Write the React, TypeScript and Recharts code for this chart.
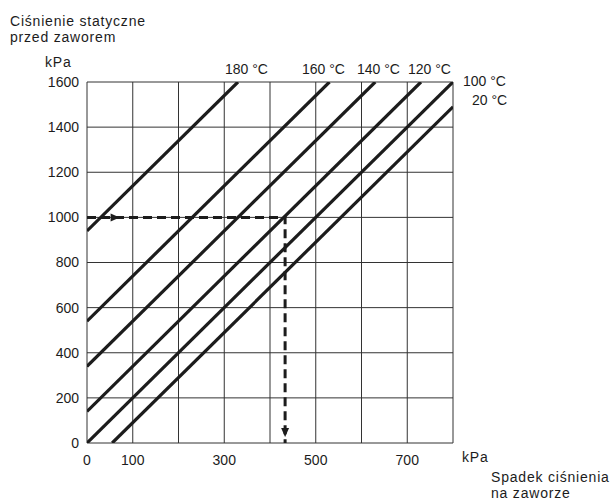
import { ComposedChart, Line, Scatter, XAxis, YAxis, CartesianGrid } from "recharts";

// Spadek ciśnienia (kPa) vs ciśnienie statyczne (kPa)
const xTicks = [0, 100, 200, 300, 400, 500, 600, 700, 800];
const xLabelled = [0, 100, 300, 500, 700];
const yTicks = [0, 200, 400, 600, 800, 1000, 1200, 1400, 1600];

const line180 = [{ dp: 0, p: 940 }, { dp: 330, p: 1600 }];
const line160 = [{ dp: 0, p: 540 }, { dp: 530, p: 1600 }];
const line140 = [{ dp: 0, p: 340 }, { dp: 630, p: 1600 }];
const line120 = [{ dp: 0, p: 140 }, { dp: 730, p: 1600 }];
const line100 = [{ dp: 0, p: 0 }, { dp: 800, p: 1600 }];
const line20 = [{ dp: 55, p: 0 }, { dp: 800, p: 1490 }];

const curves = [line180, line160, line140, line120, line100, line20];

// przykład odczytu (linia przerywana) i strzałki
const readingPath = [{ dp: 0, p: 1000 }, { dp: 433, p: 1000 }, { dp: 433, p: 0 }];
const arrows = [
  { dp: 67, p: 1000, dir: "right" },
  { dp: 433, p: 35, dir: "down" },
];

const tempLabels = [
  { text: "180 °C", left: 225, top: 62 },
  { text: "160 °C", left: 302, top: 62 },
  { text: "140 °C", left: 357, top: 62 },
  { text: "120 °C", left: 408, top: 62 },
  { text: "100 °C", left: 463, top: 74 },
  { text: "20 °C", left: 472, top: 93 },
];

const font = "'Liberation Sans', Arial, sans-serif";
const ink = "#1c1c1c";

function Arrow(props: any) {
  const { cx, cy, payload } = props;
  if (cx == null || cy == null) return null;
  const pts =
    payload.dir === "right"
      ? `${cx - 7},${cy - 4} ${cx + 2},${cy} ${cx - 7},${cy + 4}`
      : `${cx - 4},${cy - 7} ${cx},${cy + 2} ${cx + 4},${cy - 7}`;
  return <polygon points={pts} fill={ink} />;
}

function XTick(props: any) {
  const { x, y, payload } = props;
  if (!xLabelled.includes(payload.value)) return null;
  return (
    <text x={x} y={y} dy="0.71em" textAnchor="middle" fontSize={14} fill={ink} fontFamily={font}>
      {payload.value}
    </text>
  );
}

export default function App() {
  const txt = (s: string, left: number, top: number) => (
    <div
      style={{
        position: "absolute", left, top, fontSize: 14, letterSpacing: 0.8, color: ink,
        fontFamily: font, whiteSpace: "nowrap", lineHeight: 1,
      }}
    >
      {s}
    </div>
  );

  return (
    <div style={{ position: "absolute", left: 0, top: 0, width: 614, height: 501, background: "#fff" }}>
      <ComposedChart
        width={614}
        height={501}
        margin={{ top: 82, right: 161, bottom: 28, left: 47 }}
      >
        <CartesianGrid stroke="#333" strokeWidth={1} />
        <XAxis
          type="number"
          dataKey="dp"
          domain={[0, 800]}
          ticks={xTicks}
          interval={0}
          allowDataOverflow
          axisLine={false}
          tickLine={false}
          tickMargin={6}
          height={30}
          tick={<XTick />}
        />
        <YAxis
          type="number"
          dataKey="p"
          domain={[0, 1600]}
          ticks={yTicks}
          interval={0}
          allowDataOverflow
          axisLine={false}
          tickLine={false}
          width={40}
          tick={{ fontSize: 14, fill: ink, fontFamily: font }}
        />
        {curves.map((d, i) => (
          <Line
            key={i}
            data={d}
            dataKey="p"
            type="linear"
            stroke={ink}
            strokeWidth={3.2}
            dot={false}
            isAnimationActive={false}
          />
        ))}
        <Line
          data={readingPath}
          dataKey="p"
          type="linear"
          stroke={ink}
          strokeWidth={3}
          strokeDasharray="9 5"
          dot={false}
          isAnimationActive={false}
        />
        <Scatter data={arrows} dataKey="p" shape={<Arrow />} isAnimationActive={false} />
      </ComposedChart>
      {txt("Ciśnienie statyczne", 10, 14)}
      {txt("przed zaworem", 10, 30)}
      {txt("kPa", 45, 55)}
      {tempLabels.map((t) => (
        <div
          key={t.text}
          style={{ position: "absolute", left: t.left, top: t.top, fontSize: 14, color: ink, fontFamily: font, whiteSpace: "nowrap", lineHeight: 1 }}
        >
          {t.text}
        </div>
      ))}
      {txt("kPa", 462, 450)}
      {txt("Spadek ciśnienia", 491, 470)}
      {txt("na zaworze", 491, 486)}
    </div>
  );
}
